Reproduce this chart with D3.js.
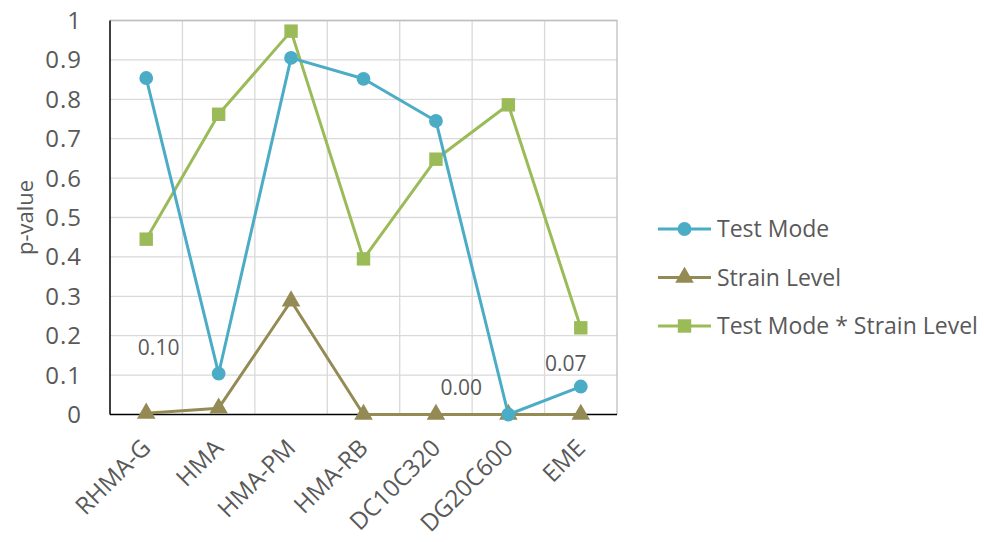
<!DOCTYPE html>
<html>
<head>
<meta charset="utf-8">
<script src="https://cdn.jsdelivr.net/npm/d3@7"></script>
<style>
  body { margin: 0; background: #fff; }
  text { font-family: "Open Sans", sans-serif; fill: #595959; }
</style>
</head>
<body>
<div id="chart"></div>
<script>
// categories and p-values
const categories = ["RHMA-G", "HMA", "HMA-PM", "HMA-RB", "DC10C320", "DG20C600", "EME"];
const testMode = [0.854, 0.104, 0.905, 0.852, 0.745, 0.0, 0.071];
const strainLevel = [0.003, 0.016, 0.288, 0.0, 0.0, 0.0, 0.0];
const interaction = [0.445, 0.762, 0.973, 0.395, 0.648, 0.786, 0.22];
const yTicks = [0, 0.1, 0.2, 0.3, 0.4, 0.5, 0.6, 0.7, 0.8, 0.9, 1];
const seriesNames = ["Test Mode", "Strain Level", "Test Mode * Strain Level"];

// data labels shown only on a few Test Mode points (index into categories)
const labelIdx = [1, 5, 6];
const labelText = ["0.10", "0.00", "0.07"];

const W = 984, H = 542;
const margin = { top: 20.5, right: 367, bottom: 127.5, left: 110 };

const svg = d3.select("#chart").append("svg")
    .attr("width", W)
    .attr("height", H);

const x = d3.scaleBand()
    .domain(categories)
    .range([margin.left, W - margin.right])
    .padding(0);

const y = d3.scaleLinear()
    .domain([0, 1])
    .range([H - margin.bottom, margin.top]);

const cx = d => x(d) + x.bandwidth() / 2;

// gridlines
svg.append("g")
    .selectAll("line.h")
    .data(yTicks.slice(1))
    .enter().append("line")
    .attr("x1", margin.left).attr("x2", W - margin.right)
    .attr("y1", d => y(d)).attr("y2", d => y(d))
    .attr("stroke", "#d9d9d9").attr("stroke-width", 1.3);

svg.append("g")
    .selectAll("line.v")
    .data(categories.slice(1))
    .enter().append("line")
    .attr("x1", d => x(d)).attr("x2", d => x(d))
    .attr("y1", margin.top).attr("y2", y(0))
    .attr("stroke", "#d9d9d9").attr("stroke-width", 1.3);

// outer frame (top & right grey)
svg.append("path")
    .attr("d", `M${margin.left},${margin.top}H${W - margin.right}V${y(0)}`)
    .attr("fill", "none")
    .attr("stroke", "#bfbfbf")
    .attr("stroke-width", 1.3);

// axes
svg.append("line")
    .attr("x1", margin.left).attr("x2", margin.left)
    .attr("y1", margin.top).attr("y2", y(0))
    .attr("stroke", "#000").attr("stroke-width", 1.5);
svg.append("line")
    .attr("x1", margin.left).attr("x2", W - margin.right)
    .attr("y1", y(0)).attr("y2", y(0))
    .attr("stroke", "#000").attr("stroke-width", 1.5);

// y tick labels
svg.append("g")
    .selectAll("text")
    .data(yTicks)
    .enter().append("text")
    .attr("x", margin.left - 28)
    .attr("y", d => y(d))
    .attr("dy", "0.35em")
    .attr("text-anchor", "end")
    .attr("font-size", 24)
    .attr("letter-spacing", 1)
    .text(d => d3.format("~g")(d));

// y axis title
svg.append("text")
    .attr("transform", `translate(33, ${(margin.top + y(0)) / 2}) rotate(-90)`)
    .attr("text-anchor", "middle")
    .attr("font-size", 22)
    .text("p-value");

// x tick labels rotated
svg.append("g")
    .selectAll("text")
    .data(categories)
    .enter().append("text")
    .attr("transform", d => `translate(${cx(d) + 6}, ${y(0) + 35}) rotate(-45)`)
    .attr("text-anchor", "end")
    .attr("font-size", 24)
    .text(d => d);

// series
const series = [
    { name: seriesNames[0], values: testMode, color: "#4bacc6", marker: "circle" },
    { name: seriesNames[1], values: strainLevel, color: "#948a54", marker: "triangle" },
    { name: seriesNames[2], values: interaction, color: "#9bbb59", marker: "square" }
];

const line = d3.line()
    .x((d, i) => cx(categories[i]))
    .y(d => y(d));

const symbolOf = {
    circle: d3.symbol().type(d3.symbolCircle).size(150),
    triangle: d3.symbol().type(d3.symbolTriangle).size(150),
    square: d3.symbol().type(d3.symbolSquare).size(180)
};

// draw in reverse so Test Mode sits on top
[series[2], series[1], series[0]].forEach(s => {
    svg.append("path")
        .datum(s.values)
        .attr("fill", "none")
        .attr("stroke", s.color)
        .attr("stroke-width", 3)
        .attr("stroke-linejoin", "round")
        .attr("d", line);

    svg.append("g")
        .selectAll("path")
        .data(s.values)
        .enter().append("path")
        .attr("transform", (d, i) => `translate(${cx(categories[i])}, ${y(d)})`)
        .attr("d", symbolOf[s.marker]())
        .attr("fill", s.color);
});

// data labels (offset as in the original)
const labelOffsets = [[-60, -26], [-47, -27], [-15, -23]];
svg.append("g")
    .selectAll("text")
    .data(labelIdx)
    .enter().append("text")
    .attr("x", (d, k) => cx(categories[d]) + labelOffsets[k][0])
    .attr("y", (d, k) => y(testMode[d]) + labelOffsets[k][1])
    .attr("dy", "0.35em")
    .attr("text-anchor", "middle")
    .attr("font-size", 21)
    .text((d, k) => labelText[k]);

// legend
const legend = svg.append("g").attr("transform", "translate(658, 229)");
series.forEach((s, i) => {
    const g = legend.append("g").attr("transform", `translate(0, ${i * 48.5})`);
    g.append("line")
        .attr("x1", 0).attr("x2", 53)
        .attr("stroke", s.color)
        .attr("stroke-width", 3);
    g.append("path")
        .attr("transform", "translate(26.5, 0)")
        .attr("d", symbolOf[s.marker]())
        .attr("fill", s.color);
    g.append("text")
        .attr("x", 59)
        .attr("dy", "0.35em")
        .attr("font-size", 23)
        .text(s.name);
});
</script>
</body>
</html>
